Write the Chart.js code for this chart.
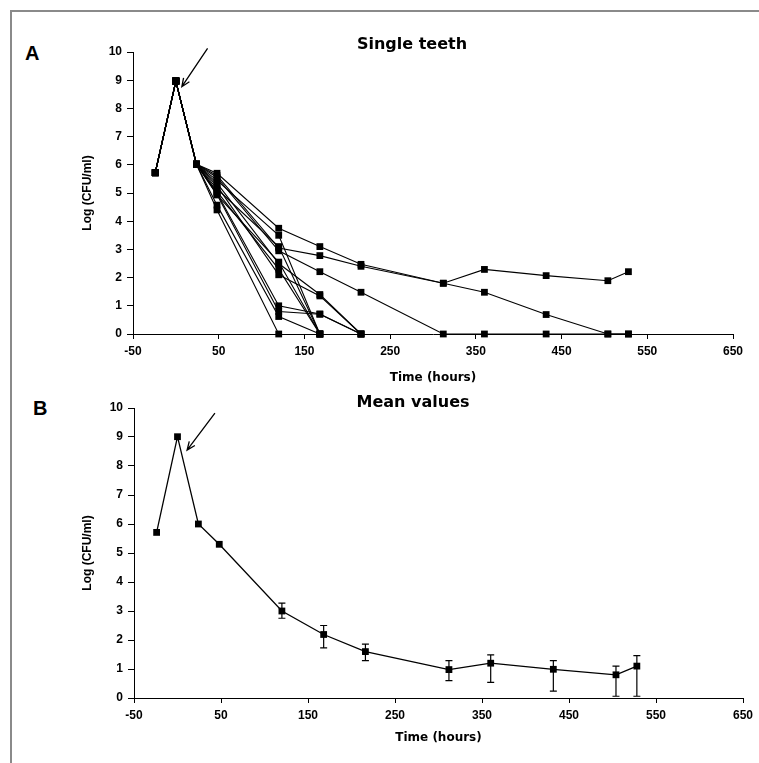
<!DOCTYPE html>
<html>
<head>
<meta charset="utf-8">
<script src="https://cdn.jsdelivr.net/npm/chart.js@4.4.1/dist/chart.umd.min.js"></script>
<style>
  body { margin: 0; background: #fff; width: 759px; height: 763px; overflow: hidden; position: relative; }
  .frame { position: absolute; left: 10px; top: 10px; right: 0; bottom: 0; border-top: 2px solid #8a8a8a; border-left: 2px solid #8a8a8a; }
  .panel { position: absolute; font: bold 20px "Liberation Sans", Arial, sans-serif; color: #000; }
  canvas { position: absolute; left: 0; }
</style>
</head>
<body>
<div class="frame"></div>
<div class="panel" style="left:25px;top:42px">A</div>
<div class="panel" style="left:33px;top:397px">B</div>
<canvas id="chartA" width="759" height="390" style="top:0"></canvas>
<canvas id="chartB" width="759" height="373" style="top:390px"></canvas>
<script>
// sampling times (hours) and axis ticks
const hours = [-24, 0, 24, 48, 120, 168, 216, 312, 360, 432, 504, 528];
const xTicks = [-50, 50, 150, 250, 350, 450, 550, 650];
const yTicks = [0, 1, 2, 3, 4, 5, 6, 7, 8, 9, 10];

// single teeth, log(CFU/ml); null = no sample
const tooth1 = [5.72, 8.97, 6.02, 5.70, 3.75, 3.10, 2.47, 1.80, 2.29, 2.07, 1.89, 2.21];
const tooth2 = [5.72, 8.97, 6.02, 5.62, 3.05, 2.78, 2.40, 1.80, 1.48, 0.69, 0, 0];
const tooth3 = [5.72, 8.97, 6.02, 5.55, 2.95, 2.21, 1.48, 0, 0, 0, 0, 0];
const tooth4 = [5.72, 8.97, 6.02, 5.45, 3.50, 0, null, null, null, null, null, null];
const tooth5 = [5.72, 8.97, 6.02, 5.35, 2.50, 1.40, 0, null, null, null, null, null];
const tooth6 = [5.72, 8.97, 6.02, 5.25, 2.10, 1.35, 0, null, null, null, null, null];
const tooth7 = [5.72, 8.97, 6.02, 5.15, 3.10, 0, null, null, null, null, null, null];
const tooth8 = [5.72, 8.97, 6.02, 5.05, 2.30, 0, null, null, null, null, null, null];
const tooth9 = [5.72, 8.97, 6.02, 5.00, 1.00, 0.71, 0, null, null, null, null, null];
const tooth10 = [5.72, 8.97, 6.02, 4.95, 0.80, 0.70, 0, null, null, null, null, null];
const tooth11 = [5.72, 8.97, 6.02, 4.57, 0.62, 0, null, null, null, null, null, null];
const tooth12 = [5.72, 8.97, 6.02, 4.40, 0, null, null, null, null, null, null, null];
const tooth13 = [5.72, 8.97, 6.02, 4.93, 2.55, 0, null, null, null, null, null, null];
const teeth = [tooth1, tooth2, tooth3, tooth4, tooth5, tooth6, tooth7, tooth8, tooth9, tooth10, tooth11, tooth12, tooth13];

// mean values with error bar ends
const meanValues = [5.71, 9.01, 6.00, 5.30, 3.00, 2.19, 1.60, 0.98, 1.20, 0.99, 0.80, 1.10];
const meanUpper = [null, null, null, null, 3.27, 2.50, 1.86, 1.29, 1.49, 1.29, 1.10, 1.46];
const meanLower = [null, null, null, null, 2.75, 1.73, 1.29, 0.60, 0.54, 0.24, 0.06, 0.06];

const tickFont = { family: "'Liberation Sans', Arial, sans-serif", weight: 'bold', size: 12 };

function toPoints(values) {
  return hours.map((t, i) => ({ x: t, y: values[i] })).filter(p => p.y !== null);
}

function lineDataset(values, width) {
  return {
    data: toPoints(values),
    borderColor: '#000',
    borderWidth: width,
    backgroundColor: '#000',
    pointStyle: 'rect',
    pointRadius: 4.8,
    pointBorderWidth: 0,
    pointBackgroundColor: '#000',
    tension: 0,
    clip: false
  };
}

const arrowPlugin = {
  id: 'arrow',
  afterDatasetsDraw(chart, args, opts) {
    if (!opts.from) return;
    const { ctx, scales: { x, y } } = chart;
    const x1 = x.getPixelForValue(opts.from[0]), y1 = y.getPixelForValue(opts.from[1]);
    const x2 = x.getPixelForValue(opts.to[0]), y2 = y.getPixelForValue(opts.to[1]);
    const ang = Math.atan2(y2 - y1, x2 - x1);
    ctx.save();
    ctx.strokeStyle = '#000';
    ctx.lineWidth = 1.3;
    ctx.beginPath();
    ctx.moveTo(x1, y1);
    ctx.lineTo(x2, y2);
    ctx.moveTo(x2 - 9 * Math.cos(ang - 0.4), y2 - 9 * Math.sin(ang - 0.4));
    ctx.lineTo(x2, y2);
    ctx.lineTo(x2 - 9 * Math.cos(ang + 0.4), y2 - 9 * Math.sin(ang + 0.4));
    ctx.stroke();
    ctx.restore();
  }
};

const errorBars = {
  id: 'errorBars',
  afterDatasetsDraw(chart, args, opts) {
    if (!opts.upper) return;
    const { ctx, scales: { x, y } } = chart;
    ctx.save();
    ctx.strokeStyle = '#000';
    ctx.lineWidth = 1.2;
    hours.forEach((t, i) => {
      if (opts.upper[i] == null) return;
      const px = x.getPixelForValue(t);
      const top = y.getPixelForValue(opts.upper[i]);
      const bot = y.getPixelForValue(opts.lower[i]);
      ctx.beginPath();
      ctx.moveTo(px, top); ctx.lineTo(px, bot);
      ctx.moveTo(px - 3.5, top); ctx.lineTo(px + 3.5, top);
      ctx.moveTo(px - 3.5, bot); ctx.lineTo(px + 3.5, bot);
      ctx.stroke();
    });
    ctx.restore();
  }
};

function makeScales(yWidth, yTitlePad, xHeight, xTitlePad) {
  return {
    x: {
      type: 'linear', min: -50, max: 650,
      afterBuildTicks: s => { s.ticks = xTicks.map(v => ({ value: v })); },
      afterFit: s => { s.height = xHeight; },
      grid: { drawOnChartArea: false, tickLength: 5, tickColor: '#000' },
      border: { display: true, color: '#000', width: 1 },
      ticks: { color: '#000', padding: 5.8, font: tickFont, maxRotation: 0, autoSkip: false },
      title: {
        display: true, text: 'Time (hours)', color: '#000',
        font: { family: "'DejaVu Sans', sans-serif", weight: 'bold', size: 12 },
        padding: { top: 0, bottom: xTitlePad }
      }
    },
    y: {
      type: 'linear', min: 0, max: 10,
      afterBuildTicks: s => { s.ticks = yTicks.map(v => ({ value: v })); },
      afterFit: s => { s.width = yWidth; },
      grid: { drawOnChartArea: false, tickLength: 6, tickColor: '#000' },
      border: { display: true, color: '#000', width: 1 },
      ticks: { color: '#000', padding: 5, font: tickFont },
      title: {
        display: true, text: 'Log (CFU/ml)', color: '#000',
        font: { family: "'Liberation Sans', Arial, sans-serif", weight: 'bold', size: 12 },
        padding: { top: yTitlePad, bottom: 0 }
      }
    }
  };
}

function titleOpts(text, padTop, padBottom) {
  return {
    display: true, text: text, color: '#000',
    font: { family: "'DejaVu Sans', sans-serif", weight: 'bold', size: 16, lineHeight: 1.2 },
    padding: { top: padTop, bottom: padBottom }
  };
}

new Chart(document.getElementById('chartA').getContext('2d'), {
  type: 'line',
  data: { datasets: teeth.map(v => lineDataset(v, 1.1)) },
  options: {
    responsive: false,
    animation: false,
    layout: { padding: { left: 91, right: 26, top: 0, bottom: 4 } },
    scales: makeScales(42, -10.2, 52, 0.5),
    plugins: {
      legend: { display: false },
      tooltip: { enabled: false },
      title: titleOpts('Single teeth', 35.4, -2.6),
      arrow: { from: [37, 10.13], to: [7, 8.77] }
    }
  },
  plugins: [arrowPlugin]
});

new Chart(document.getElementById('chartB').getContext('2d'), {
  type: 'line',
  data: { datasets: [lineDataset(meanValues, 1.3)] },
  options: {
    responsive: false,
    animation: false,
    layout: { padding: { left: 83, right: 16, top: 0, bottom: 13 } },
    scales: makeScales(51, -2.2, 52, 4.5),
    plugins: {
      legend: { display: false },
      tooltip: { enabled: false },
      title: titleOpts('Mean values', 3.4, -4.6),
      arrow: { from: [43, 9.82], to: [11, 8.55] },
      errorBars: { upper: meanUpper, lower: meanLower }
    }
  },
  plugins: [arrowPlugin, errorBars]
});
</script>
</body>
</html>
